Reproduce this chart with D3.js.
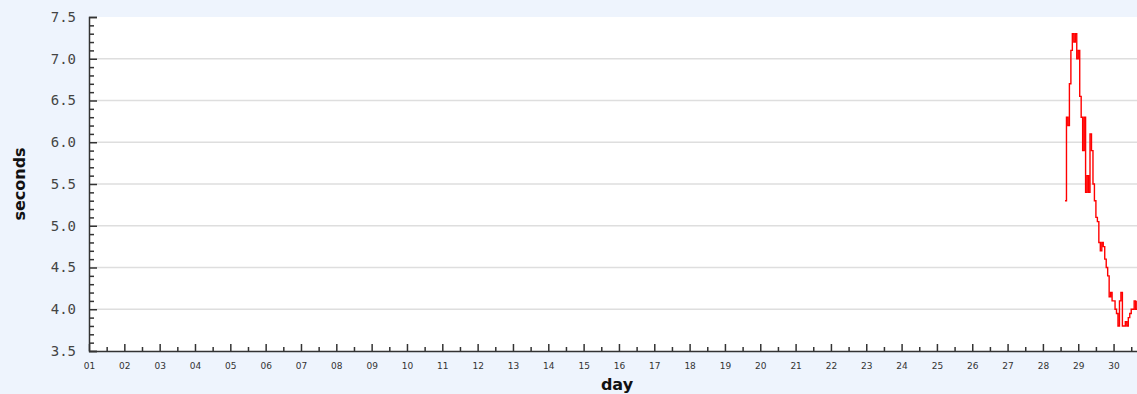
<!DOCTYPE html>
<html>
<head>
<meta charset="utf-8">
<script src="https://cdn.jsdelivr.net/npm/d3@7"></script>
<style>
  html, body { margin: 0; padding: 0; background: #eef4fd; }
  svg { display: block; }
</style>
</head>
<body>
<svg id="chart" width="1137" height="394"></svg>
<script>
// ---- data ----
const dayTicks = ["01","02","03","04","05","06","07","08","09","10","11","12","13","14","15","16","17","18","19","20","21","22","23","24","25","26","27","28","29","30"];
const yTicks = [3.5, 4.0, 4.5, 5.0, 5.5, 6.0, 6.5, 7.0, 7.5];
// hourly samples starting day 28, 15:00 (fractional day)
const times = [28.625,28.667,28.708,28.750,28.792,28.833,28.875,28.917,28.958,29.000,
               29.042,29.083,29.125,29.167,29.208,29.250,29.292,29.333,29.375,29.417,
               29.458,29.500,29.542,29.583,29.625,29.667,29.708,29.750,29.792,29.833,
               29.875,29.917,29.958,30.000,30.042,30.083,30.125,30.167,30.208,30.250,
               30.292,30.333,30.375,30.417,30.458,30.500,30.542,30.583,30.625,30.667];
const seconds = [5.3, 6.3, 6.2, 6.7, 7.1, 7.3, 7.2, 7.3, 7.0, 7.1,
                 6.55, 6.3, 5.9, 6.3, 5.4, 5.6, 5.4, 6.1, 5.9, 5.5,
                 5.3, 5.1, 5.05, 4.8, 4.7, 4.8, 4.75, 4.6, 4.5, 4.4,
                 4.15, 4.2, 4.1, 4.1, 4.0, 3.95, 3.8, 4.1, 4.2, 3.8,
                 3.8, 3.85, 3.8, 3.9, 3.95, 4.0, 4.0, 4.1, 4.0, 4.1];

// ---- layout ----
const svg = d3.select("#chart");
const mLeft = 89, mTop = 17, mBottom = 351, W = 1137;
const x = d3.scaleLinear().domain([1, 31]).range([mLeft, mLeft + 30 * 35.33]);
const y = d3.scaleLinear().domain([3.5, 7.5]).range([mBottom, mTop]);

// plot background
svg.append("rect").attr("x", mLeft).attr("y", mTop)
  .attr("width", W - mLeft).attr("height", mBottom - mTop).attr("fill", "#ffffff");

// gridlines
svg.append("g").selectAll("line").data(yTicks.filter(v => v > 3.5 && v < 7.5)).join("line")
  .attr("x1", mLeft).attr("x2", W).attr("y1", d => y(d)).attr("y2", d => y(d))
  .attr("stroke", "#dedede").attr("stroke-width", 1.5);

// data line
const data = times.map((t, i) => [t, seconds[i]]);
svg.append("path").datum(data)
  .attr("fill", "none").attr("stroke", "#ff0000").attr("stroke-width", 1.4)
  .attr("d", d3.line().x(d => x(d[0])).y(d => y(d[1])).curve(d3.curveStepAfter));

// y axis: major ticks (inward) with labels, minor ticks
const yAxis = d3.axisLeft(y).tickValues(yTicks).tickFormat(d3.format(".1f")).tickSize(-8).tickPadding(14);
const gy = svg.append("g").attr("transform", `translate(${mLeft},0)`).call(yAxis);
gy.select(".domain").attr("stroke", "#333").attr("stroke-width", 1.5);
gy.selectAll(".tick line").attr("stroke", "#333").attr("stroke-width", 1.5);
gy.selectAll(".tick text").attr("font-family", "'DejaVu Sans Mono', monospace").attr("font-size", 14)
  .attr("fill", "#444").attr("x", -13);
const yMinor = d3.range(36, 75).map(v => v / 10).filter(v => Math.round(v * 10) % 5 !== 0);
svg.append("g").attr("transform", `translate(${mLeft},0)`)
  .call(d3.axisLeft(y).tickValues(yMinor).tickSize(-5).tickFormat(""))
  .call(g => g.select(".domain").remove())
  .selectAll("line").attr("stroke", "#333").attr("stroke-width", 1.5);

// x axis: major ticks at days, minor at half-days
const xMajor = dayTicks.map(d => +d);
const xAxis = d3.axisBottom(x).tickValues(xMajor).tickFormat((d, i) => dayTicks[i]).tickSize(-7).tickPadding(13);
const gx = svg.append("g").attr("transform", `translate(0,${mBottom})`).call(xAxis);
gx.select(".domain").attr("d", `M${mLeft},0.5H${W}`).attr("stroke", "#333").attr("stroke-width", 1.5);
gx.selectAll(".tick line").attr("stroke", "#333").attr("stroke-width", 1.5);
gx.selectAll(".tick text").attr("font-family", "'DejaVu Sans', sans-serif").attr("font-size", 9)
  .attr("fill", "#333").attr("y", 12);
const xMinor = xMajor.map(d => d + 0.5);
svg.append("g").attr("transform", `translate(0,${mBottom})`)
  .call(d3.axisBottom(x).tickValues(xMinor).tickSize(-4).tickFormat(""))
  .call(g => g.select(".domain").remove())
  .selectAll("line").attr("stroke", "#333").attr("stroke-width", 1.5);

// axis titles
svg.append("text").attr("x", 617).attr("y", 390).attr("text-anchor", "middle")
  .attr("font-family", "'DejaVu Sans', sans-serif").attr("font-weight", "bold").attr("font-size", 16)
  .attr("fill", "#111").text("day");
svg.append("text").attr("transform", "translate(25,184) rotate(-90)").attr("text-anchor", "middle")
  .attr("font-family", "'DejaVu Sans', sans-serif").attr("font-weight", "bold").attr("font-size", 16)
  .attr("fill", "#111").text("seconds");
</script>
</body>
</html>
